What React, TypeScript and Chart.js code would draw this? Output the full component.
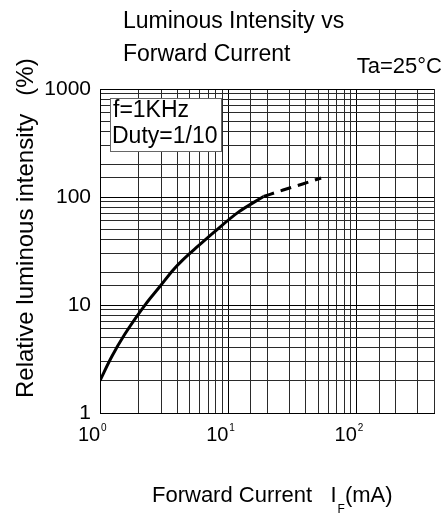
import React, { useEffect, useRef } from 'react';
import { Chart, registerables } from 'chart.js';

Chart.register(...registerables);

const FONT = "'Liberation Sans', Arial, sans-serif";

// Data (x = forward current mA, y = relative intensity %)
const currentSolid = [1, 1.23, 1.55, 2.27, 2.95, 3.7, 4.4, 5.8, 7.7, 11.9, 18.8];
const intensitySolid = [2, 3.3, 5.3, 10.2, 15, 21, 26, 35, 47, 72, 101];
const currentDashed = [18.8, 26.7, 37.9, 52.8];
const intensityDashed = [101, 116, 132, 150];

const xTickValues = [1, 10, 100];
const xTickBases = ['10', '10', '10'];
const xTickExponents = ['0', '1', '2'];
const yTickValues = [1, 10, 100, 1000];
const yTickLabels = ['1', '10', '100', '1000'];

const titleLines = ['Luminous Intensity vs', 'Forward Current'];
const noteLines = ['f=1KHz', 'Duty=1/10'];
const ambientLabel = 'Ta=25\u00B0C';
const xTitleParts = ['Forward Current   I', 'F', '(mA)'];
const yTitleParts = ['Relative luminous intensity', '(%)'];

const textPlugin = {
  id: 'textPlugin',
  afterDraw(chart: any) {
    const c = chart.ctx as CanvasRenderingContext2D;
    c.save();
    c.fillStyle = '#000';
    c.textBaseline = 'alphabetic';
    c.textAlign = 'left';
    c.font = `23px ${FONT}`;
    c.fillText(titleLines[0], 123, 28);
    c.fillText(titleLines[1], 123, 61);

    c.font = `22px ${FONT}`;
    c.textAlign = 'right';
    c.fillText(ambientLabel, 442, 73);

    // note box
    c.fillStyle = '#fff';
    c.fillRect(110.5, 98.5, 111, 53);
    c.strokeStyle = '#666';
    c.lineWidth = 1;
    c.strokeRect(110.5, 98.5, 111, 53);
    c.fillStyle = '#000';
    c.textAlign = 'left';
    c.font = `23px ${FONT}`;
    c.fillText(noteLines[0], 113, 117);
    c.fillText(noteLines[1], 112, 143);

    // exponents of the x tick labels, placed at the scale's tick positions
    const xs = chart.scales.x;
    c.font = `10px ${FONT}`;
    c.textAlign = 'left';
    xTickValues.forEach((v, i) => {
      const px = xs.getPixelForValue(v);
      c.fillText(xTickExponents[i], px + 1, 431);
    });

    // x title with subscript
    let x = 152;
    c.font = `22px ${FONT}`;
    c.fillText(xTitleParts[0], x, 502);
    x += c.measureText(xTitleParts[0]).width + 1;
    c.font = `12px ${FONT}`;
    c.fillText(xTitleParts[1], x, 513);
    x += c.measureText(xTitleParts[1]).width;
    c.font = `22px ${FONT}`;
    c.fillText(xTitleParts[2], x, 502);

    // y title rotated
    c.translate(33, 398);
    c.rotate(-Math.PI / 2);
    c.font = `24px ${FONT}`;
    c.textAlign = 'left';
    c.fillText(yTitleParts[0], 0, 0);
    c.textAlign = 'center';
    c.fillText(yTitleParts[1], 321, 0);
    c.restore();
  },
};

export default function App() {
  const ref = useRef<HTMLCanvasElement | null>(null);

  useEffect(() => {
    document.body.style.margin = '0';
    if (!ref.current) return;
    const gridColor = (ctx: any) => (ctx.tick && ctx.tick.major ? '#000' : '#2a2a2a');
    const chart = new Chart(ref.current, {
      type: 'line',
      data: {
        datasets: [
          {
            data: currentSolid.map((v, i) => ({ x: v, y: intensitySolid[i] })),
            borderColor: '#000',
            borderWidth: 3,
            pointRadius: 0,
            cubicInterpolationMode: 'monotone',
          },
          {
            data: currentDashed.map((v, i) => ({ x: v, y: intensityDashed[i] })),
            borderColor: '#000',
            borderWidth: 3,
            borderDash: [11, 7],
            pointRadius: 0,
            cubicInterpolationMode: 'monotone',
          },
        ],
      },
      options: {
        responsive: false,
        animation: false,
        layout: { padding: { top: 89, right: 1, bottom: 42, left: 0 } },
        plugins: { legend: { display: false }, tooltip: { enabled: false }, title: { display: false } },
        scales: {
          x: {
            type: 'logarithmic',
            min: 1,
            max: 400,
            afterFit: (s: any) => {
              s.height = 60;
            },
            grid: { color: gridColor, lineWidth: 1, drawTicks: false },
            border: { display: true, color: '#000', width: 1 },
            ticks: {
              autoSkip: false,
              maxRotation: 0,
              padding: 10,
              labelOffset: -11,
              color: '#000',
              font: { family: FONT, size: 20 },
              callback: (v: any) => {
                const i = xTickValues.indexOf(Number(v));
                return i >= 0 ? xTickBases[i] : '';
              },
            },
          },
          y: {
            type: 'logarithmic',
            min: 1,
            max: 1000,
            afterFit: (s: any) => {
              s.width = 100;
            },
            grid: { color: gridColor, lineWidth: 1, drawTicks: false },
            border: { display: true, color: '#000', width: 1 },
            ticks: {
              autoSkip: false,
              padding: 9,
              color: '#000',
              font: { family: FONT, size: 21 },
              callback: (v: any) => {
                const i = yTickValues.indexOf(Number(v));
                return i >= 0 ? yTickLabels[i] : '';
              },
            },
          },
        },
      },
      plugins: [textPlugin],
    } as any);
    return () => chart.destroy();
  }, []);

  return (
    <div style={{ position: 'absolute', left: 0, top: 0, width: 444, height: 515, background: '#fff' }}>
      <canvas ref={ref} width={444} height={515} style={{ display: 'block' }} />
    </div>
  );
}
